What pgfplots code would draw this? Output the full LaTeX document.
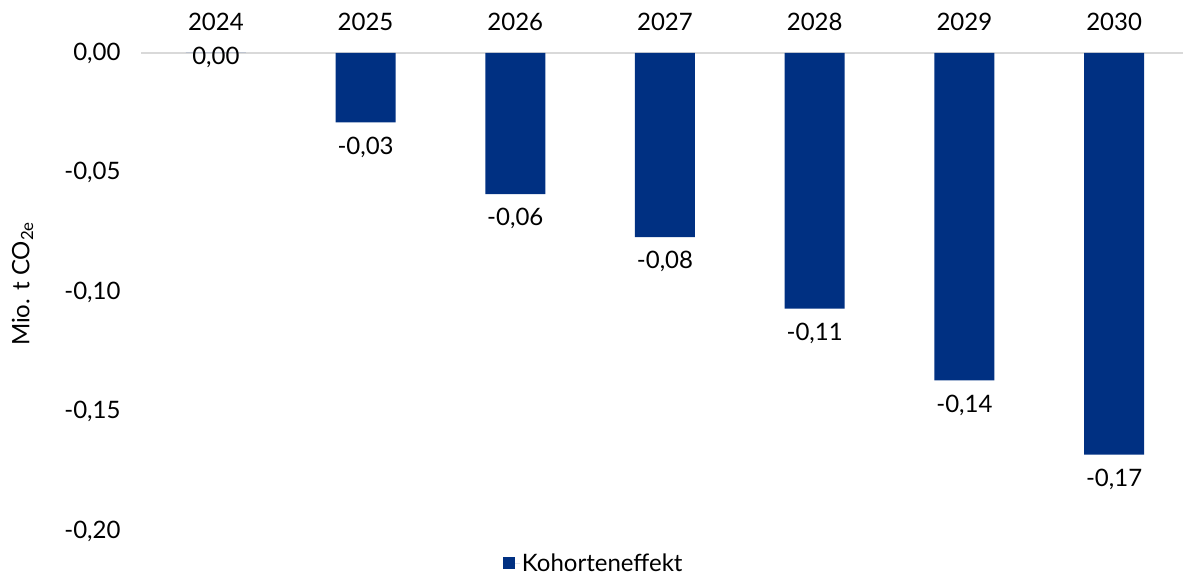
\documentclass[border=0pt]{standalone}
\usepackage{pgfplots}
\pgfplotsset{compat=1.18}
\usepackage{fontspec}
\setmainfont{Lato}
\definecolor{barblue}{RGB}{0,48,130}
\definecolor{gridgray}{RGB}{217,217,217}
\newcommand{\cf}{\fontsize{24bp}{28bp}\selectfont}
\begin{document}
\begin{tikzpicture}
\path[use as bounding box] (0,0) rectangle (1183bp,574bp);
\begin{axis}[
  at={(141bp,43bp)}, anchor=south west,
  scale only axis, width=1048bp, height=478bp,
  xmin=-0.5, xmax=6.5, ymin=-0.2, ymax=0,
  axis x line*=top, axis y line*=left,
  x axis line style={draw=gridgray, line width=1.2bp, -},
  y axis line style={draw=none},
  xtick={0,1,2,3,4,5,6},
  xticklabels={2024,2025,2026,2027,2028,2029,2030},
  ytick={-0.2,-0.15,-0.1,-0.05,0},
  major tick length=0pt,
  xticklabel pos=upper,
  tick label style={font=\cf, /pgf/number format/assume math mode=true},
  x tick label style={yshift=19bp},
  y tick label style={xshift=-17bp, /pgf/number format/.cd, fixed, fixed zerofill, precision=2, use comma},
  ylabel={Mio. t CO\textsubscript{2e}},
  ylabel style={at={(axis description cs:-0.113,0.517)}, anchor=center, font=\cf},
  legend style={at={(axis description cs:0.432,-0.067)}, anchor=center, draw=none, fill=none, font=\cf, inner sep=0pt},
  legend image code/.code={\fill[#1] (0bp,-6bp) rectangle (12bp,6bp); \path (0bp,0bp) -- (17bp,0bp);},
  clip=false,
]
\addplot[ybar, bar width=60bp, bar shift=0pt, fill=barblue, draw=none,
  nodes near coords, nodes near coords align={anchor=north},
  every node near coord/.append style={font=\cf, text=black, yshift=-11bp, /pgf/number format/assume math mode=true, /pgf/number format/.cd, fixed, fixed zerofill, precision=2, use comma}]
  coordinates {(1,-0.029) (2,-0.059) (3,-0.077) (4,-0.107) (5,-0.137) (6,-0.168)};
\addlegendentry{Kohorteneffekt}
\addplot[ybar, bar width=60bp, bar shift=0pt, fill=barblue, draw=none, forget plot,
  nodes near coords, nodes near coords align={anchor=center},
  every node near coord/.append style={font=\cf, text=black, yshift=-4bp, /pgf/number format/assume math mode=true, /pgf/number format/.cd, fixed, fixed zerofill, precision=2, use comma}]
  coordinates {(0,0)};
\end{axis}
\end{tikzpicture}
\end{document}
